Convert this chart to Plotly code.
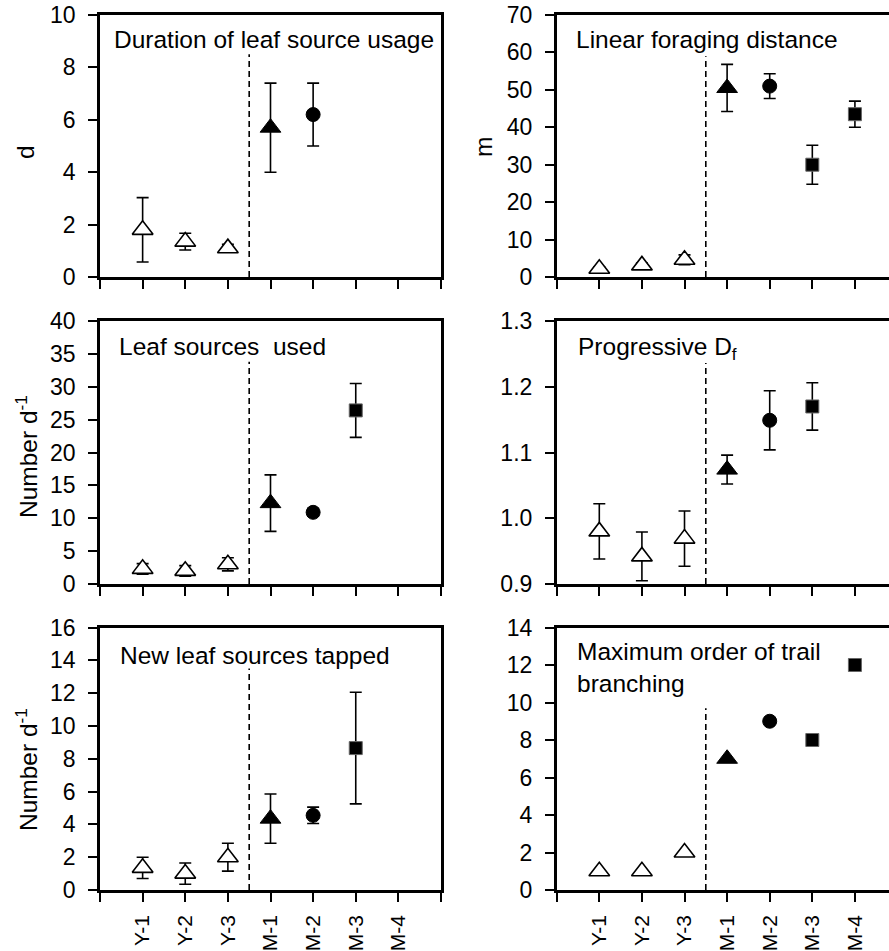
import plotly.graph_objects as go

# ---------------- data ----------------
categories = ["Y-1", "Y-2", "Y-3", "M-1", "M-2", "M-3", "M-4"]

dur_mean = [1.8, 1.35, 1.1, 5.7, 6.2, None, None]
dur_err = [1.23, 0.32, 0.15, 1.7, 1.2, None, None]

dist_mean = [2.2, 3.1, 4.6, 50.5, 51.0, 30.0, 43.5]
dist_err = [0.5, 0.6, 1.3, 6.3, 3.3, 5.2, 3.5]

used_mean = [2.3, 2.0, 3.0, 12.3, 10.9, 26.4, None]
used_err = [0.8, 0.8, 1.0, 4.3, 0.6, 4.1, None]

df_mean = [0.980, 0.942, 0.969, 1.074, 1.149, 1.170, None]
df_err = [0.042, 0.037, 0.042, 0.022, 0.045, 0.036, None]

new_mean = [1.35, 1.0, 2.0, 4.35, 4.55, 8.65, None]
new_err = [0.65, 0.65, 0.85, 1.5, 0.5, 3.4, None]

order_vals = [1, 1, 2, 7, 9, 8, 12]
order_err = [None] * 7

panel_titles = ["Duration of leaf source usage", "Linear foraging distance",
                "Leaf sources\u00a0 used", "Progressive D<sub>f</sub>",
                "New leaf sources tapped", "Maximum order of trail<br>branching"]
y_ranges = [[0, 10], [0, 70], [0, 40], [0.9, 1.3], [0, 16], [0, 14]]
y_dticks = [2, 10, 5, 0.1, 2, 2]
dash_tops = [8.5, 59, 33.8, 1.236, 13.5, 9.7]

# ---------------- styling ----------------
W, H = 889, 951
FONT = "Liberation Sans, Arial, Helvetica, sans-serif"
TICK_SIZE = 23
XTICK_SIZE = 21
TEXT_SIZE = 24.5


def fx(px):
    return px / W


def fy(py):
    return 1 - py / H


def style_for(cat):
    if cat.startswith("Y"):
        return dict(symbol="triangle-up", size=18, color="white", line=dict(color="black", width=1.6))
    if cat == "M-1":
        return dict(symbol="triangle-up", size=18, color="black", line=dict(color="black", width=1))
    if cat == "M-2":
        return dict(symbol="circle", size=14, color="black", line=dict(color="black", width=1))
    return dict(symbol="square", size=13, color="black", line=dict(color="#666666", width=1))


panels = [(dur_mean, dur_err), (dist_mean, dist_err), (used_mean, used_err),
          (df_mean, df_err), (new_mean, new_err), (order_vals, order_err)]

# page-pixel geometry of the plot areas
left_x = (100, 441)
right_x = (556.7, 889)
rows_y = [(15, 277), (321, 584), (627.5, 890)]

fig = go.Figure()
layout = dict(width=W, height=H,
              margin=dict(l=0, r=0, t=0, b=0, pad=0, autoexpand=False),
              paper_bgcolor="white", plot_bgcolor="white", showlegend=False,
              font=dict(family=FONT, size=TICK_SIZE, color="black"))

shapes = []
annotations = []
tick_style = dict(ticks="outside", ticklen=9, tickwidth=2, tickcolor="black")

for p, (means, errs) in enumerate(panels):
    n = p + 1
    row, col = p // 2, p % 2
    xs = left_x if col == 0 else right_x
    ys = rows_y[row]
    xname = "x" if n == 1 else f"x{n}"
    yname = "y" if n == 1 else f"y{n}"
    for i, cat in enumerate(categories):
        if means[i] is None:
            continue
        tr = go.Scatter(x=[i + 1], y=[means[i]], mode="markers",
                        marker=style_for(cat), xaxis=xname, yaxis=yname,
                        cliponaxis=False)
        if errs[i] is not None:
            tr.error_y = dict(type="data", array=[errs[i]], visible=True,
                              thickness=1.6, width=6, color="black")
        fig.add_trace(tr)

    xr = [0, 8] if col == 0 else [0, 7.8]
    xa = dict(domain=[fx(xs[0]), min(1, fx(xs[1]))], range=xr, anchor=yname,
              tickmode="array", tickvals=list(range(1, len(categories) + 1)),
              ticktext=categories, showticklabels=(row == 2),
              minor=dict(tickmode="array", tickvals=[0, len(categories) + 1], **tick_style),
              showline=True, linewidth=2.5, linecolor="black", mirror=True,
              showgrid=False, zeroline=False, tickangle=-90, automargin=False,
              ticklabeloverflow="allow", ticklabelstandoff=5,
              tickfont=dict(size=XTICK_SIZE, family=FONT, color="black"), **tick_style)
    ya = dict(domain=[fy(ys[1]), fy(ys[0])], range=y_ranges[p], anchor=xname,
              dtick=y_dticks[p], tick0=y_ranges[p][0],
              showline=True, linewidth=2.5, linecolor="black",
              mirror=(col == 0), showgrid=False, zeroline=False,
              ticklabelstandoff=8, automargin=False, ticklabeloverflow="allow",
              tickfont=dict(size=TICK_SIZE, family=FONT, color="black"), **tick_style)
    if p == 3:
        ya["tickformat"] = ".1f"
    layout["xaxis" if n == 1 else f"xaxis{n}"] = xa
    layout["yaxis" if n == 1 else f"yaxis{n}"] = ya

    shapes.append(dict(type="line", xref=xname, yref=yname, x0=3.5, x1=3.5,
                       y0=y_ranges[p][0], y1=dash_tops[p],
                       line=dict(color="black", width=1.6, dash="6px,4px")))

# panel titles (page-pixel positions)
title_pos = [(112, 40), (574, 40), (117, 347), (576, 349), (118, 655), (575, 667)]
for t, (px, py) in zip(panel_titles, title_pos):
    annotations.append(dict(text=t, xref="paper", yref="paper", x=fx(px), y=fy(py),
                            xanchor="left", yanchor="middle", showarrow=False, align="left",
                            font=dict(size=TEXT_SIZE, family=FONT, color="black")))

# y-axis titles
ytitles = [("d", 25, 152), ("m", 483, 147), ("Number d<sup>-1</sup>", 26, 457),
           ("Number d<sup>-1</sup>", 26, 770)]
for t, px, py in ytitles:
    annotations.append(dict(text=t, xref="paper", yref="paper", x=fx(px), y=fy(py),
                            xanchor="center", yanchor="middle", showarrow=False,
                            textangle=-90, font=dict(size=TEXT_SIZE, family=FONT, color="black")))

layout["shapes"] = shapes
layout["annotations"] = annotations
fig.update_layout(**layout)
fig.write_html("out.html", config={"displayModeBar": False},
               post_script="document.body.style.margin='0px';")
